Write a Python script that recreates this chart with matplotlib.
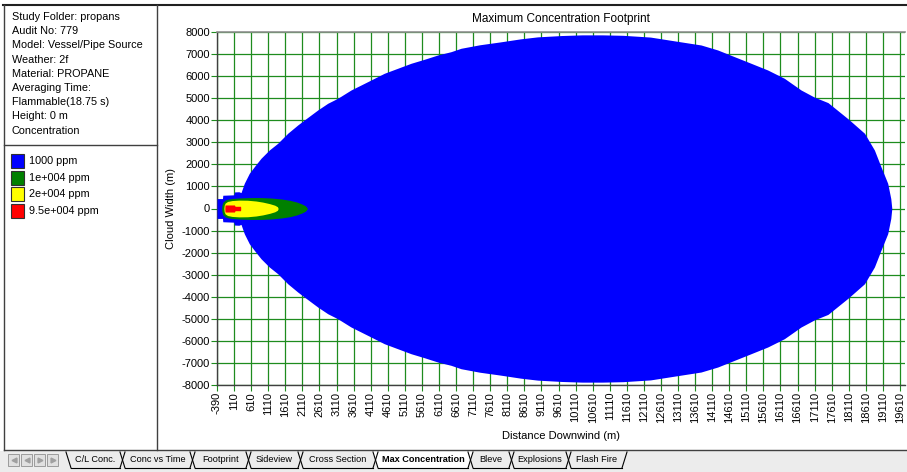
import matplotlib
matplotlib.use("Agg")
import matplotlib.pyplot as plt
from matplotlib.patches import Rectangle
import numpy as np

plt.rcParams['font.family'] = ['Liberation Sans', 'DejaVu Sans']

# ---- data (distance m, half width m) ----
blue_x = [-390, -230, -220, 100, 120, 250, 313, 409, 556, 702, 898, 1141, 1387,
          1680, 1973, 2166, 2559, 2852, 3144, 3534, 3827, 4120, 4509, 4901,
          5291, 5680, 6073, 6462, 6755, 7300, 7900, 8500, 9000, 9700, 10300,
          10900, 11500, 12300, 13000, 13783, 14272, 14760, 15247, 15735, 16222,
          16711, 17100, 17500, 18100, 18570, 18860, 19050, 19250, 19340, 19370]
blue_w = [450, 450, 600, 620, 750, 760, 720, 1142, 1596, 1895, 2276, 2652, 2955,
          3409, 3785, 4012, 4465, 4769, 4996, 5372, 5598, 5825, 6129, 6356,
          6582, 6763, 6958, 7108, 7262, 7420, 7550, 7690, 7780, 7840, 7870,
          7870, 7850, 7770, 7600, 7412, 7185, 6882, 6582, 6278, 5902,
          5372, 5050, 4800, 4050, 3410, 2650, 1900, 1140, 450, 0]
green_x = [-255, -245, -220, -150, -50, 100, 300, 600, 900, 1200, 1500, 1750,
           1950, 2100, 2200, 2260]
green_w = [0, 150, 280, 380, 430, 460, 480, 495, 495, 475, 430, 370,
           290, 200, 120, 0]
yellow_x = [-190, -180, -150, -80, 50, 250, 500, 750, 950, 1150, 1300, 1380, 1400]
yellow_w = [0, 150, 250, 320, 360, 380, 375, 340, 290, 220, 150, 80, 0]
red_x = [-160, -155, 120, 140, 300, 305]
red_w = [0, 160, 160, 100, 100, 0]

levels = ['1000 ppm', '1e+004 ppm', '2e+004 ppm', '9.5e+004 ppm']
level_colors = ['#0000ff', '#008000', '#ffff00', '#ff0000']

info_lines = ['Study Folder: propans', 'Audit No: 779', 'Model: Vessel/Pipe Source',
              'Weather: 2f', 'Material: PROPANE', 'Averaging Time:',
              'Flammable(18.75 s)', 'Height: 0 m', 'Concentration']

tabs = ['C/L Conc.', 'Conc vs Time', 'Footprint', 'Sideview', 'Cross Section',
        'Max Concentration', 'Bleve', 'Explosions', 'Flash Fire']
tab_edges = [66, 120, 190, 246, 298, 373, 468, 509, 566, 622]

x_ticks = np.arange(-390, 19611, 500)
y_ticks = np.arange(-8000, 8001, 1000)

W, H = 907, 472
fig = plt.figure(figsize=(W / 100, H / 100), dpi=100)

# background layer in pixel coordinates
bg = fig.add_axes([0, 0, 1, 1])
bg.set_xlim(0, W)
bg.set_ylim(H, 0)
bg.axis('off')

dark = '#404040'
bg.plot([3, W], [5, 5], color='#202020', lw=1.5)
bg.plot([4, 4], [5, 450], color=dark, lw=1)
bg.plot([157, 157], [5, 450], color=dark, lw=1)
bg.plot([4, 157], [145, 145], color=dark, lw=1)
bg.plot([4, W], [450, 450], color=dark, lw=1)

for i, s in enumerate(info_lines):
    bg.text(12, 17 + i * 14.2, s, fontsize=7.8, va='center', ha='left')

for i, (lab, c) in enumerate(zip(levels, level_colors)):
    y = 161 + i * 16.7
    bg.add_patch(Rectangle((11, y - 7), 13, 14, facecolor=c, edgecolor='#303030', lw=0.8))
    bg.text(29, y, lab, fontsize=7.8, va='center', ha='left')

# tab bar
bg.add_patch(Rectangle((0, 451), W, 21, facecolor='#ececec', edgecolor='none', zorder=0))
for i in range(4):
    x0 = 8 + i * 13
    bg.add_patch(Rectangle((x0, 454), 11, 12, facecolor='#e0e0e0', edgecolor='#909090', lw=0.6))
navs = ['<', '<', '>', '>']
for i, m in enumerate(navs):
    bg.plot(13.5 + i * 13, 460, marker=m, color='#a0a0a0', ms=3.5)

active = tabs.index('Max Concentration')
for i, t in enumerate(tabs):
    L, R = tab_edges[i], tab_edges[i + 1]
    if i == active:
        bg.fill([L, L + 5, R, R + 5], [452, 468, 468, 452], color='white', zorder=1)
    bg.plot([L, L + 5], [452, 468], color='black', lw=0.8, zorder=2)
    bg.plot([R, R + 5], [468, 452], color='black', lw=0.8, zorder=2)
    bg.plot([L + 5, R], [468, 468], color='black', lw=0.8, zorder=2)
    bg.text((L + R) / 2 + 2.5, 460, t, fontsize=6.6, ha='center', va='center',
            fontweight='bold' if i == active else 'normal', zorder=3)

# ---- main plot ----
ax = fig.add_axes([217 / W, 1 - 385 / H, (905 - 217) / W, (385 - 32) / H])
ax.set_facecolor('none')

for xs, ws, c in [(blue_x, blue_w, level_colors[0]), (green_x, green_w, level_colors[1]),
                  (yellow_x, yellow_w, level_colors[2]), (red_x, red_w, level_colors[3])]:
    xs = np.array(xs)
    ws = np.array(ws)
    ax.fill_between(xs, -ws, ws, color=c, lw=0, zorder=3)

ax.set_xlim(-390, 19756)
ax.set_ylim(-8000, 8000)
ax.set_xticks(x_ticks)
ax.set_xticklabels([str(v) for v in x_ticks], rotation=90, fontsize=8)
ax.set_yticks(y_ticks)
ax.set_yticklabels([str(v) for v in y_ticks], fontsize=8)
ax.set_axisbelow(True)
ax.grid(True, color='#1e8c1e', lw=0.9)
ax.tick_params(direction='out', length=4, color='#1e8c1e', pad=1)

for side in ['left', 'bottom']:
    ax.spines[side].set_color(dark)
    ax.spines[side].set_linewidth(1)
ax.spines['top'].set_color('#909090')
ax.spines['top'].set_linewidth(1.2)
ax.spines['right'].set_visible(False)

ax.set_title('Maximum Concentration Footprint', fontsize=8.5, pad=7)
ax.set_xlabel('Distance Downwind (m)', fontsize=8, labelpad=6)
ax.set_ylabel('Cloud Width (m)', fontsize=8, labelpad=4)

fig.savefig('out.png', dpi=100)
